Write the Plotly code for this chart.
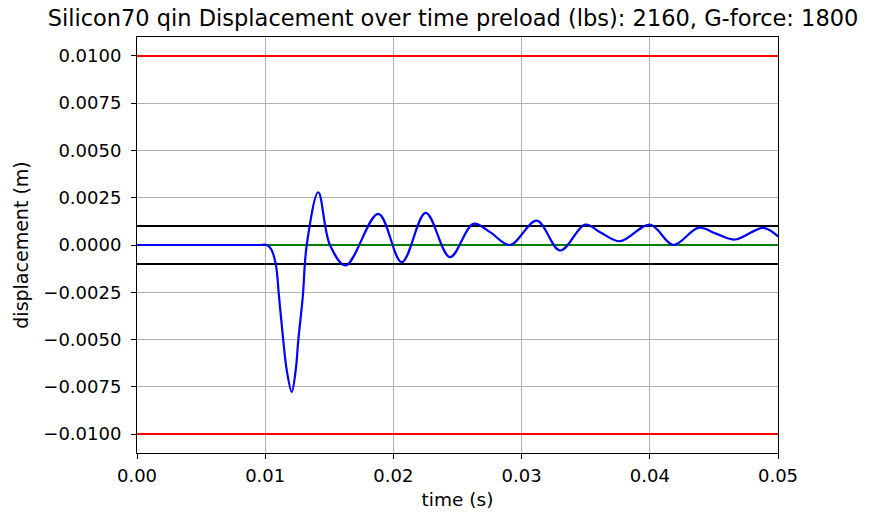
import plotly.graph_objects as go

# Data
time_s = [0.0, 0.0095, 0.0101, 0.01045, 0.01082, 0.01108, 0.01141, 0.01168, 0.01207,
          0.01238, 0.01258, 0.01293, 0.01324, 0.01414,
          0.01505, 0.01628, 0.01882, 0.02065, 0.02252, 0.02441, 0.02623, 0.02754,
          0.0291, 0.03118, 0.033, 0.03495, 0.03612, 0.03768, 0.04002, 0.04183,
          0.04379, 0.04522, 0.04665, 0.04886, 0.0500]
displacement_m = [0.0, 0.0, 0.0, -0.0002, -0.00099, -0.00275, -0.00504, -0.00662, -0.00777,
                  -0.00662, -0.00504, -0.00275, 0.0, 0.00279,
                  0.0, -0.00108, 0.00165, -0.00091, 0.0017, -0.00064, 0.00112, 0.00068,
                  0.0, 0.00129, -0.00029, 0.00108, 0.00068, 0.0002, 0.00108, 0.0,
                  0.00091, 0.00059, 0.00029, 0.00091, 0.00045]

limit_red = [0.01, -0.01]
limit_black = [0.001, -0.001]
zero_line = [0.0]

x_ticks = [0.0, 0.01, 0.02, 0.03, 0.04, 0.05]
x_ticktext = ["0.00", "0.01", "0.02", "0.03", "0.04", "0.05"]
y_ticks = [0.01, 0.0075, 0.005, 0.0025, 0.0, -0.0025, -0.005, -0.0075, -0.01]
y_ticktext = ["0.0100", "0.0075", "0.0050", "0.0025", "0.0000",
              "\u22120.0025", "\u22120.0050", "\u22120.0075", "\u22120.0100"]

title = "Silicon70 qin Displacement over time preload (lbs): 2160, G-force: 1800"

fig = go.Figure()
xr = [0.0, 0.05]
for v in limit_red:
    fig.add_trace(go.Scatter(x=xr, y=[v, v], mode="lines",
                             line=dict(color="#ff0000", width=2), hoverinfo="skip"))
for v in limit_black:
    fig.add_trace(go.Scatter(x=xr, y=[v, v], mode="lines",
                             line=dict(color="#000000", width=2), hoverinfo="skip"))
for v in zero_line:
    fig.add_trace(go.Scatter(x=xr, y=[v, v], mode="lines",
                             line=dict(color="#008000", width=2), hoverinfo="skip"))
fig.add_trace(go.Scatter(x=time_s, y=displacement_m, mode="lines",
                         line=dict(color="#0000ff", width=2.2, shape="spline", smoothing=1.0)))

font = "DejaVu Sans"
fig.update_layout(
    width=871, height=515,
    margin=dict(l=137, r=93, t=37, b=62, autoexpand=False),
    paper_bgcolor="white", plot_bgcolor="white",
    showlegend=False,
    font=dict(family=font, size=18, color="black"),
    title=dict(text=title, x=453 / 871, xanchor="center",
               y=1 - 18 / 515, yanchor="middle",
               font=dict(family=font, size=22.5, color="black")),
)
fig.update_xaxes(range=[0.0, 0.05], tickvals=x_ticks, ticktext=x_ticktext,
                 showgrid=True, gridcolor="#b0b0b0", gridwidth=0.8,
                 showline=True, linecolor="black", linewidth=1, mirror=True,
                 ticks="outside", ticklen=5, tickcolor="black",
                 ticklabelstandoff=1, automargin=False,
                 zeroline=False, tickfont=dict(size=18),
                 title=dict(text="time (s)", standoff=8, font=dict(size=18.5)))
fig.update_yaxes(range=[-0.011, 0.011], tickvals=y_ticks, ticktext=y_ticktext,
                 showgrid=True, gridcolor="#b0b0b0", gridwidth=0.8,
                 showline=True, linecolor="black", linewidth=1, mirror=True,
                 ticks="outside", ticklen=5, tickcolor="black",
                 ticklabelstandoff=6, automargin=False,
                 zeroline=False, tickfont=dict(size=18),
                 title=dict(text="displacement (m)", standoff=9, font=dict(size=19)))

fig.write_html("out.html")
